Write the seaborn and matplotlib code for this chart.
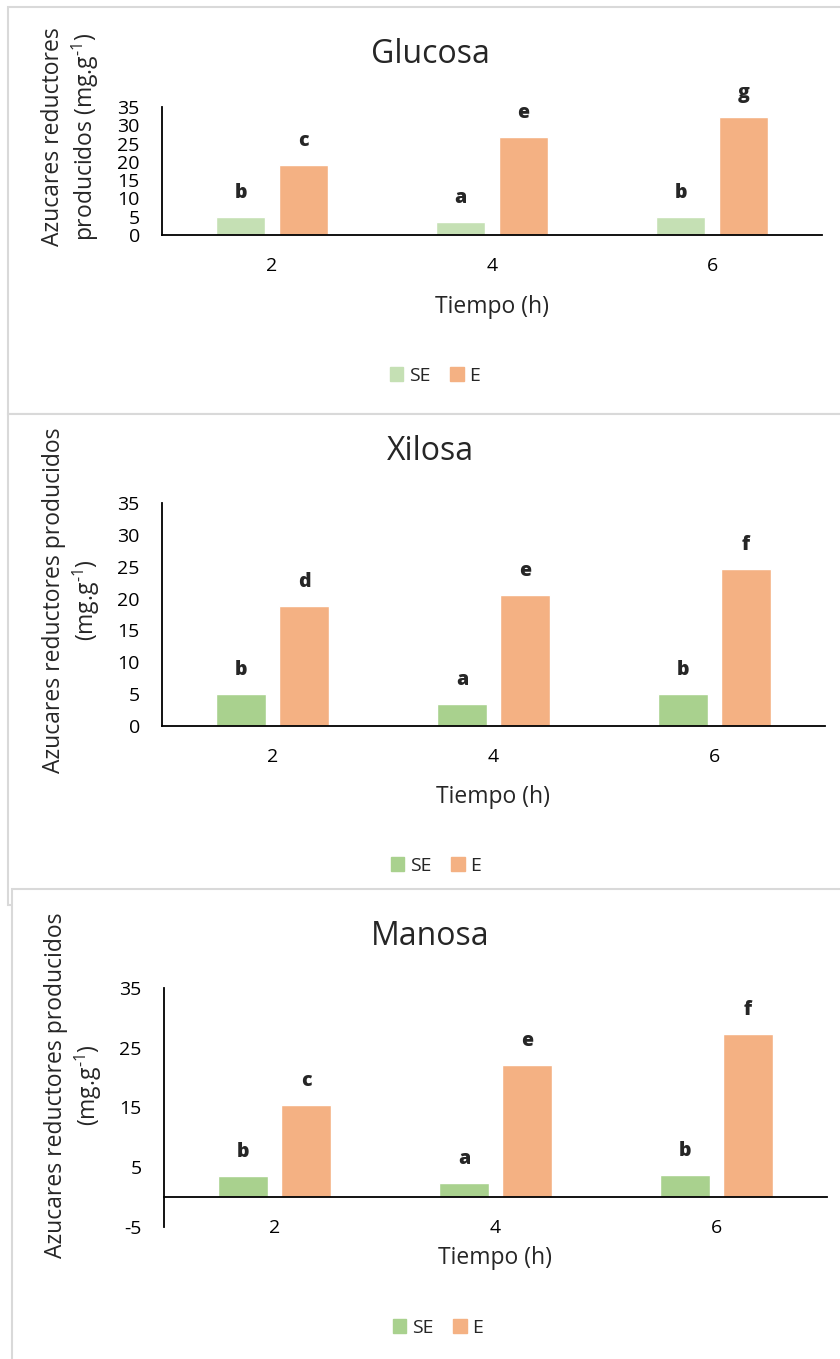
import pandas as pd
import matplotlib.pyplot as plt
import matplotlib.patches as mpatches
import seaborn as sns

# datos (mg.g-1)
tiempos = ['2', '4', '6']
tratamientos = ['SE', 'E']

glucosa_se = [4.9, 3.6, 5.0]
glucosa_e = [19.1, 26.8, 32.3]
xilosa_se = [5.0, 3.5, 5.0]
xilosa_e = [18.9, 20.5, 24.7]
manosa_se = [3.6, 2.3, 3.7]
manosa_e = [15.5, 22.1, 27.3]

letras_glucosa = [['b', 'a', 'b'], ['c', 'e', 'g']]
letras_xilosa = [['b', 'a', 'b'], ['d', 'e', 'f']]
letras_manosa = [['b', 'a', 'b'], ['c', 'e', 'f']]

yticks_normal = [0, 5, 10, 15, 20, 25, 30, 35]
yticks_manosa = [-5, 5, 15, 25, 35]

verde_claro = '#C5E0B4'
verde = '#A9D18E'
naranja = '#F4B183'

sns.set_style('white')
plt.rcParams['font.family'] = ['Open Sans', 'DejaVu Sans']
plt.rcParams['axes.unicode_minus'] = False
plt.rcParams['mathtext.fontset'] = 'custom'
plt.rcParams['mathtext.rm'] = 'Open Sans'
plt.rcParams['mathtext.it'] = 'Open Sans:italic'
plt.rcParams['mathtext.bf'] = 'Open Sans:bold'

W, H = 840, 1359


def fx(x):
    return x / W


def fy(y):
    return 1 - y / H


fig = plt.figure(figsize=(W / 100, H / 100), dpi=100)

# marcos de cada grafico
for (x0, y0, x1, y1) in [(8, 7, 860, 414), (8, 414, 860, 905), (12, 889, 860, 1380)]:
    fig.add_artist(mpatches.Rectangle((fx(x0), fy(y1)), (x1 - x0) / W, (y1 - y0) / H,
                                      transform=fig.transFigure, facecolor='white',
                                      edgecolor='#d9d9d9', linewidth=1.5, zorder=-1))

paneles = [
    dict(titulo='Glucosa', se=glucosa_se, e=glucosa_e, letras=letras_glucosa,
         color_se=verde_claro, ylim=(0, 35), yticks=yticks_normal,
         ylabel='Azucares reductores\nproducidos (mg.g$^{\\text{-}1}$)',
         caja=(162, 107, 822, 235), titulo_y=63, ylabel_pos=(71, 137),
         xlabel_y=307, leyenda=(435, 376)),
    dict(titulo='Xilosa', se=xilosa_se, e=xilosa_e, letras=letras_xilosa,
         color_se=verde, ylim=(0, 35), yticks=yticks_normal,
         ylabel='Azucares reductores producidos\n(mg.g$^{\\text{-}1}$)',
         caja=(162, 503, 825, 726), titulo_y=460, ylabel_pos=(72, 600),
         xlabel_y=797, leyenda=(436, 866)),
    dict(titulo='Manosa', se=manosa_se, e=manosa_e, letras=letras_manosa,
         color_se=verde, ylim=(-5, 35), yticks=yticks_manosa,
         ylabel='Azucares reductores producidos\n(mg.g$^{\\text{-}1}$)',
         caja=(164, 988, 827, 1227), titulo_y=945, ylabel_pos=(74, 1085),
         xlabel_y=1258, leyenda=(438, 1328)),
]

for p in paneles:
    x0, y0, x1, y1 = p['caja']
    ax = fig.add_axes([fx(x0), fy(y1), (x1 - x0) / W, (y1 - y0) / H])
    ax.patch.set_alpha(0)

    df = pd.DataFrame({
        'tiempo': tiempos * 2,
        'valor': p['se'] + p['e'],
        'trat': ['SE'] * 3 + ['E'] * 3,
    })
    sns.barplot(data=df, x='tiempo', y='valor', hue='trat', hue_order=tratamientos,
                palette=[p['color_se'], naranja], width=0.57, gap=0.21,
                saturation=1, legend=False, ax=ax)

    for cont, letras in zip(ax.containers, p['letras']):
        ax.bar_label(cont, labels=letras, padding=10, fontsize=14, fontweight='heavy')

    ax.set_ylim(*p['ylim'])
    ax.set_yticks(p['yticks'])
    ax.set_xlim(-0.5, 2.5)
    sns.despine(ax=ax)
    for s in ['left', 'bottom']:
        ax.spines[s].set_color('black')
        ax.spines[s].set_linewidth(1.3)
    if p['ylim'][0] < 0:
        ax.spines['bottom'].set_position(('data', 0))
    ax.tick_params(length=0, pad=16, labelsize=14, colors='black')

    ax.set_ylabel(p['ylabel'], fontsize=16.5, va='center', ha='center', multialignment='center')
    lx, ly = p['ylabel_pos']
    ax.yaxis.set_label_coords((lx - x0) / (x1 - x0), (y1 - ly) / (y1 - y0))
    ax.set_xlabel('Tiempo (h)', fontsize=16.5, va='center')
    ax.xaxis.set_label_coords(0.5, (y1 - p['xlabel_y']) / (y1 - y0))

    fig.text(fx(430), fy(p['titulo_y']), p['titulo'], fontsize=23, ha='center', va='baseline')

    handles = [mpatches.Patch(color=p['color_se'], label='SE'),
               mpatches.Patch(color=naranja, label='E')]
    lx, ly = p['leyenda']
    fig.legend(handles=handles, loc='center', bbox_to_anchor=(fx(lx), fy(ly)), ncol=2,
               frameon=False, fontsize=14, handlelength=0.7, handleheight=0.7,
               handletextpad=0.3, columnspacing=1.0)

fig.savefig('out.png', dpi=100)
